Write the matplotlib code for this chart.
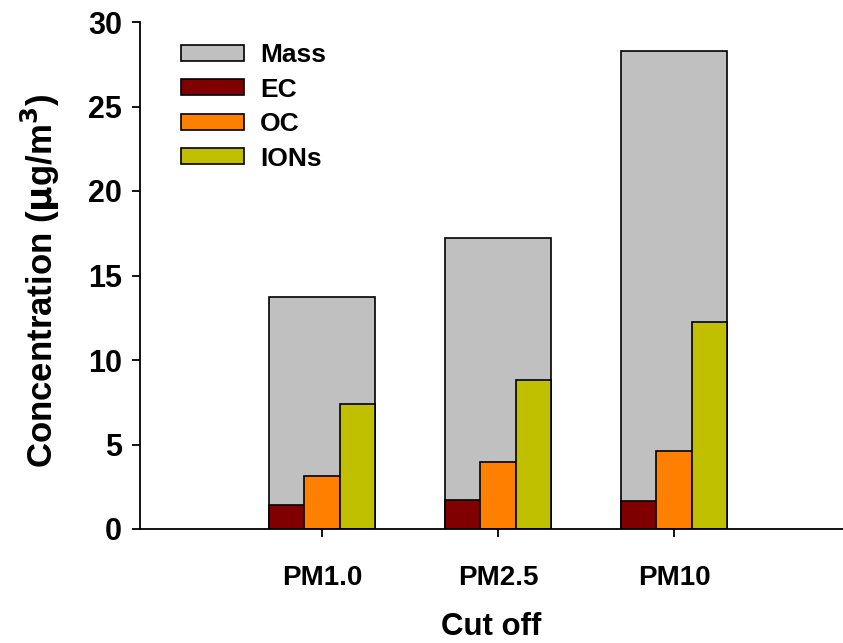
import numpy as np
import matplotlib
matplotlib.use("Agg")
import matplotlib.pyplot as plt

plt.rcParams['font.family'] = ['Liberation Sans', 'DejaVu Sans']
plt.rcParams['font.weight'] = 'bold'
plt.rcParams['mathtext.default'] = 'bf'

# data
cutoffs = ["PM1.0", "PM2.5", "PM10"]
mass = [13.7, 17.2, 28.3]
ec = [1.42, 1.70, 1.68]
oc = [3.15, 3.95, 4.63]
ions = [7.38, 8.80, 12.27]

colors = {"Mass": "#C0C0C0", "EC": "#800000", "OC": "#FF8000", "IONs": "#C0C000"}

fig = plt.figure(figsize=(8.43, 6.43), dpi=100)
W, H = 843, 643
ax = fig.add_axes([140 / W, 1 - 529 / H, 1 - 140 / W, (529 - 22) / H])

x = np.arange(1, len(cutoffs) + 1)
ax.bar(x, mass, width=0.6, color=colors["Mass"], edgecolor="black", linewidth=1.2, label="Mass")
ax.bar(x - 0.2, ec, width=0.2, color=colors["EC"], edgecolor="black", linewidth=1.2, label="EC")
ax.bar(x, oc, width=0.2, color=colors["OC"], edgecolor="black", linewidth=1.2, label="OC")
ax.bar(x + 0.2, ions, width=0.2, color=colors["IONs"], edgecolor="black", linewidth=1.2, label="IONs")

ax.set_xlim(1 - 182 / 176, 1 + 521 / 176)
ax.set_ylim(0, 30)
ax.set_yticks(np.arange(0, 31, 5))
ax.set_xticks(x)
ax.set_xticklabels(cutoffs)

for s in ["top", "right"]:
    ax.spines[s].set_visible(False)
for s in ["left", "bottom"]:
    ax.spines[s].set_linewidth(1.3)

ax.tick_params(axis="y", direction="out", length=6, width=1.3, labelsize=22, pad=7)
ax.tick_params(axis="x", direction="out", length=6, width=1.3, labelsize=20, pad=20)

ax.set_xlabel("Cut off", fontsize=22.5, fontweight="bold", labelpad=15)
ax.set_ylabel("Concentration ($\\mu$g/m$^3$)", fontsize=25, fontweight="bold")
ax.yaxis.set_label_coords(-0.111, 0.489)

ax.legend(loc="upper left", bbox_to_anchor=(181 / W, 1 - 43 / H), bbox_transform=fig.transFigure,
          frameon=False, fontsize=19, handlelength=2.4, handleheight=0.55,
          handletextpad=0.6, labelspacing=0.4, borderpad=0, borderaxespad=0)

fig.savefig("out.png", dpi=100)
